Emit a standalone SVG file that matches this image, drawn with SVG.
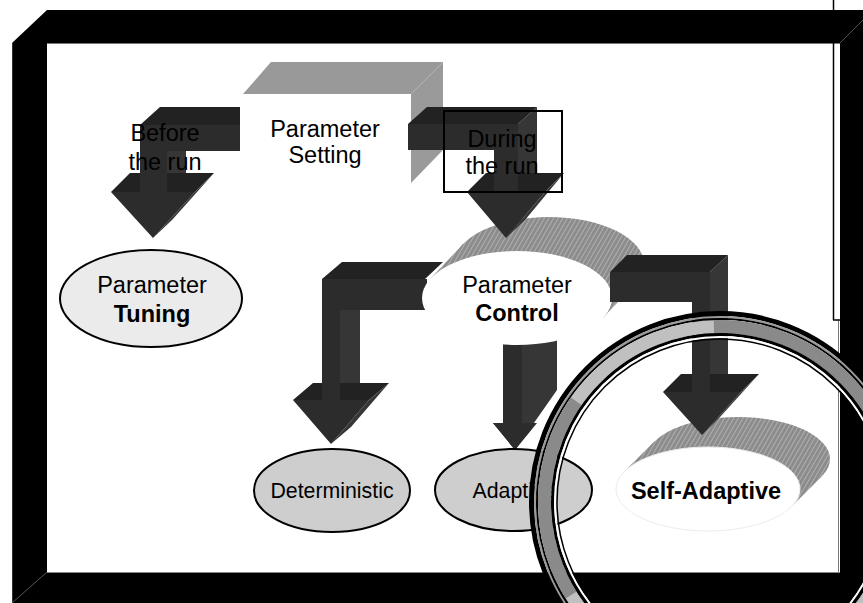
<svg xmlns="http://www.w3.org/2000/svg" width="863" height="603" viewBox="0 0 863 603">
  <defs>
    <style>
      .lbl { font-family: "Liberation Sans", Arial, sans-serif; font-size: 23.5px; fill: #000; text-anchor: middle; }
      .sm { font-size: 21.3px; }
      .b { font-weight: bold; }
      .top { fill: #222222; }
      .front { fill: #2c2c2c; }
      .side { fill: #363636; }
      .hatch { fill: url(#hatch); }
      .ring { fill: none; }
    </style>
    <!-- fine light diagonal hatching used for the raised ellipse rims -->
    <pattern id="hatch" patternUnits="userSpaceOnUse" width="4" height="4" patternTransform="rotate(30)">
      <rect width="4" height="4" fill="#8c8c8c"/>
      <line x1="0.5" y1="0" x2="0.5" y2="4" stroke="#b8b8b8" stroke-width="0.8"/>
    </pattern>
  </defs>

  <rect width="863" height="603" fill="#ffffff"/>

  <!-- bevelled picture frame -->
  <g id="frame">
    <path d="M12,43 L47,10 L863,10 L863,603 L12,603 Z M47,43 L47,572 L840,572 L840,43 Z" fill="#000" fill-rule="evenodd"/>
    <line x1="12.5" y1="43" x2="12.5" y2="603" stroke="#333" stroke-width="1"/>
    <line x1="47" y1="572" x2="12" y2="603" stroke="#555" stroke-width="1"/>
    <line x1="840" y1="43" x2="863" y2="20" stroke="#555" stroke-width="1"/>
    <line x1="47" y1="43.5" x2="840" y2="43.5" stroke="#777" stroke-width="1"/>
    <line x1="47" y1="572.5" x2="840" y2="572.5" stroke="#888" stroke-width="1"/>
    <line x1="838.5" y1="320" x2="838.5" y2="572" stroke="#777" stroke-width="1"/>
    <line x1="833.5" y1="0" x2="833.5" y2="320" stroke="#000" stroke-width="1.5"/>
    <line x1="833" y1="320" x2="840" y2="320" stroke="#000" stroke-width="1.5"/>
  </g>

  <!-- Parameter Setting: grey 3D slab -->
  <g id="parameter-setting">
    <polygon points="243,94 271,62 443,62 411,94" fill="#999999"/>
    <polygon points="411,94 443,62 443,150 411,183" fill="#9a9a9a"/>
    <text class="lbl" x="325" y="137">Parameter</text>
    <text class="lbl" x="325" y="163">Setting</text>
  </g>

  <!-- raised rims behind the control ellipses -->
  <g id="rims">
    <ellipse class="hatch" cx="549" cy="264" rx="95" ry="47"/>
    <polygon class="hatch" points="430.9,278.2 462.9,244.2 635.1,283.8 603.1,317.8"/>
    <ellipse class="hatch" cx="738" cy="459" rx="92" ry="42"/>
    <polygon class="hatch" points="624.3,471.6 654.3,441.6 821.7,476.4 791.7,506.4"/>
  </g>

  <g id="connectors">
    <!-- Before the run -->
    <g id="arrow-before">
      <polygon class="side" points="167,151 186,133 186,173 167,192"/>
      <polygon class="top" points="111,192 130,173 214,173 195,192"/>
      <polygon class="side" points="195,192 214,173 172,220 153,238"/>
      <polygon class="top" points="140,125 160,107 240,107 240,125"/>
      <polygon class="front" points="140,125 240,125 240,151 167,151 167,192 195,192 153,238 111,192 140,192"/>
    </g>
    <!-- During the run -->
    <g id="arrow-during">
      <polygon class="side" points="518,124 537,107 537,173 518,192"/>
      <polygon class="top" points="467,192 486,173 564,173 545,192"/>
      <polygon class="side" points="545,192 564,173 525,220 506,238"/>
      <polygon class="top" points="408,124 427,107 537,107 518,124"/>
      <polygon class="front" points="408,124 518,124 518,192 545,192 506,238 467,192 494,192 494,150 408,150"/>
    </g>
    <!-- to Deterministic -->
    <g id="arrow-deterministic">
      <polygon class="side" points="340,310 360,293 360,383 340,400"/>
      <polygon class="top" points="293,400 313,383 389,383 369,400"/>
      <polygon class="side" points="369,400 389,383 351,427 331,444"/>
      <polygon class="top" points="322,279 342,262 443,262 425,279"/>
      <polygon class="front" points="322,279 427,279 427,310 340,310 340,400 369,400 331,444 293,400 322,400"/>
    </g>
    <!-- to Adaptive -->
    <g id="arrow-adaptive">
      <polygon class="side" points="503,330 557,330 557,390 515,450 493,423 503,423"/>
      <polygon class="front" points="503,330 522,330 522,423 537,423 515,450 493,423 503,423"/>
    </g>
    <text class="lbl" x="165" y="141">Before</text>
    <text class="lbl" x="165" y="170">the run</text>
    <text class="lbl" x="502" y="147">During</text>
    <text class="lbl" x="502" y="174">the run</text>
    <rect x="444" y="111" width="118" height="81" fill="none" stroke="#000" stroke-width="2"/>
  </g>

  <g id="parameter-tuning">
    <ellipse cx="151" cy="298.5" rx="91" ry="48.5" fill="#ebebeb" stroke="#000" stroke-width="2"/>
    <text class="lbl" x="152" y="293">Parameter</text>
    <text class="lbl b" x="152" y="322">Tuning</text>
  </g>

  <g id="parameter-control">
    <ellipse cx="517" cy="298" rx="95" ry="47" fill="#ffffff"/>
    <text class="lbl" x="517" y="293">Parameter</text>
    <text class="lbl b" x="517" y="321">Control</text>
  </g>

  <!-- to Self-Adaptive (drawn over the control ellipse edge) -->
  <g id="arrow-self-adaptive">
    <polygon class="side" points="710,272 728,255 728,374 710,392"/>
    <polygon class="top" points="663,392 681,374 759,374 741,392"/>
    <polygon class="side" points="741,392 759,374 720,417 702,435"/>
    <polygon class="top" points="610,272 627,255 728,255 710,272"/>
    <polygon class="front" points="610,272 710,272 710,392 741,392 702,435 663,392 692,392 692,302 610,302"/>
  </g>

  <g id="deterministic">
    <ellipse cx="332" cy="490.5" rx="78" ry="41.5" fill="#cecece" stroke="#000" stroke-width="2"/>
    <text class="lbl sm" x="332" y="498">Deterministic</text>
  </g>

  <g id="adaptive">
    <ellipse cx="513.5" cy="490" rx="78.5" ry="41" fill="#cecece" stroke="#000" stroke-width="2"/>
    <text class="lbl sm" x="514" y="498">Adaptive</text>
  </g>

  <g id="self-adaptive">
    <ellipse cx="708" cy="489" rx="92" ry="42" fill="#ffffff" stroke="#ececec" stroke-width="1"/>
    <text class="lbl b" x="706" y="499">Self-Adaptive</text>
  </g>

  <!-- magnifying glass rim -->
  <g id="magnifier">
    <circle class="ring" cx="720" cy="502" r="188.5" stroke="#000" stroke-width="5"/>
    <circle class="ring" cx="720" cy="502" r="185" stroke="#9a9a9a" stroke-width="2"/>
    <circle class="ring" cx="720" cy="502" r="183" stroke="#000" stroke-width="2"/>
    <circle class="ring" cx="720" cy="502" r="175.5" stroke="#c0c0c0" stroke-width="13"/>
    <path class="ring" d="M713.9,326.6 A175.5,175.5 0 0 1 892.8,532.5" stroke="#8a8a8a" stroke-width="13"/>
    <path class="ring" d="M571.2,595 A175.5,175.5 0 0 1 576.2,401.3" stroke="#8a8a8a" stroke-width="13"/>
    <circle class="ring" cx="720" cy="502" r="167.5" stroke="#000" stroke-width="3"/>
    <circle class="ring" cx="720" cy="502" r="165" stroke="#ffffff" stroke-width="2"/>
    <circle class="ring" cx="720" cy="502" r="163" stroke="#000" stroke-width="1.5"/>
  </g>
</svg>
